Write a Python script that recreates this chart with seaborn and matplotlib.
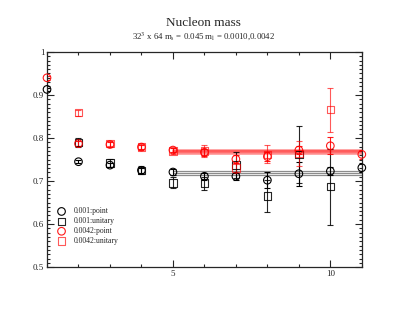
import numpy as np
import pandas as pd
import matplotlib
matplotlib.use("Agg")
import matplotlib.pyplot as plt
import seaborn as sns

# time slices
t_all = [1, 2, 3, 4, 5, 6, 7, 8, 9, 10, 11]
t_sq = [2, 3, 4, 5, 6, 7, 8, 9, 10]

# 0.001 point (black circles)
m001_point = [0.913, 0.745, 0.737, 0.725, 0.721, 0.711, 0.711, 0.702, 0.717, 0.723, 0.731]
e001_point = [0.004, 0.004, 0.005, 0.006, 0.006, 0.008, 0.008, 0.018, 0.028, 0.010, 0.010]
# 0.001 unitary (black squares)
m001_unit = [0.790, 0.742, 0.725, 0.696, 0.695, 0.738, 0.665, 0.762, 0.687]
e001_unit = [0.010, 0.010, 0.009, 0.013, 0.015, 0.030, 0.037, 0.066, 0.088]
# 0.0042 point (red circles)
m0042_point = [0.940, 0.787, 0.785, 0.779, 0.772, 0.767, 0.751, 0.757, 0.772, 0.782, 0.762]
e0042_point = [0.005, 0.005, 0.005, 0.005, 0.005, 0.008, 0.010, 0.010, 0.010, 0.020, 0.010]
# 0.0042 unitary (red squares)
m0042_unit = [0.859, 0.787, 0.779, 0.770, 0.770, 0.731, 0.762, 0.764, 0.866]
e0042_unit = [0.007, 0.006, 0.006, 0.006, 0.014, 0.012, 0.021, 0.030, 0.051]

# plateau fits (value, error) over fit range
fit_range = [5, 11]
fit_001 = (0.719, 0.005)
fit_0042 = (0.769, 0.004)

sns.set_style("ticks")
plt.rcParams["font.family"] = ["Liberation Serif", "DejaVu Serif"]
plt.rcParams["mathtext.fontset"] = "stix"

fig = plt.figure(figsize=(4.07, 3.15), dpi=100)
ax = fig.add_axes([0.1155, 0.152, 0.7735, 0.683])

series = [
    ("0.001:point", t_all, m001_point, e001_point, "o", "black", 1.0),
    ("0.001:unitary", t_sq, m001_unit, e001_unit, "s", "black", 0.85),
    ("0.0042:point", t_all, m0042_point, e0042_point, "o", "red", 0.9),
    ("0.0042:unitary", t_sq, m0042_unit, e0042_unit, "s", "red", 0.65),
]

# fit bands
for (val, err), col, a, lw in [(fit_001, "black", 0.45, 0.9), (fit_0042, "red", 0.45, 1.8)]:
    for v in (val - err, val, val + err):
        sns.lineplot(x=fit_range, y=[v, v], color=col, alpha=a, lw=lw, ax=ax)

for label, x, y, e, mk, col, a in series:
    ax.errorbar(x, y, yerr=e, fmt="none", ecolor=col, alpha=a, elinewidth=0.8,
                capsize=2.5, capthick=0.8)
    df = pd.DataFrame({"t": x, "m": y})
    sns.scatterplot(data=df, x="t", y="m", marker=mk, s=30, facecolors="none",
                    edgecolor=col, linewidth=0.8, alpha=a, label=label, ax=ax,
                    clip_on=False, zorder=3)

ax.set_xlim(1, 11)
ax.set_ylim(0.5, 1.0)
ax.set_xticks([5, 10])
ax.set_xticks(np.arange(1, 12, 1), minor=True)
ax.set_yticks([0.5, 0.6, 0.7, 0.8, 0.9, 1.0])
ax.set_yticklabels(["0.5", "0.6", "0.7", "0.8", "0.9", "1"])
ax.set_yticks(np.arange(0.5, 1.001, 0.01), minor=True)
ax.tick_params(which="both", direction="in", top=True, right=True, labelsize=6.5,
               width=0.8, pad=2)
ax.tick_params(which="major", length=5)
ax.tick_params(which="minor", length=2.5)
for s in ax.spines.values():
    s.set_linewidth(0.9)
ax.set_xlabel("")
ax.set_ylabel("")

leg = ax.legend(loc="lower left", bbox_to_anchor=(0.0, 0.07), frameon=False,
                fontsize=5.5, handletextpad=0.6, labelspacing=0.25, borderaxespad=0.5)

fig.text(0.5, 0.916, "Nucleon mass", ha="center", fontsize=9.5)
fig.text(0.5, 0.876, r"32$^3$ x 64 m$_\mathrm{s}$ = 0.045 m$_\mathrm{l}$ = 0.0010,0.0042",
         ha="center", fontsize=6.3)

fig.savefig("out.png", dpi=100)
